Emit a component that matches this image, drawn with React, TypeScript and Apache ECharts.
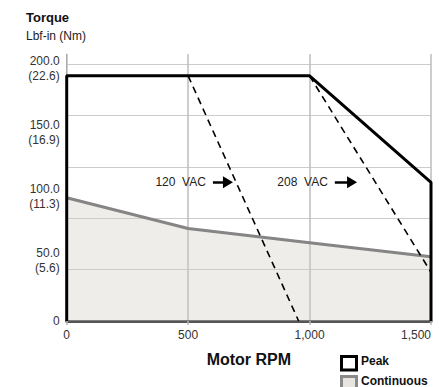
import React, { useEffect, useRef } from 'react';
import * as echarts from 'echarts';

const FONT = '"Liberation Sans", Arial, Helvetica, sans-serif';

// Axis ticks / labels
const rpmTicks = [0, 500, 1000, 1500];
const xTickLabels = ['0', '500', '1,000', '1,500'];
const yTickValues = [0, 50, 100, 150, 200];
const yLbfLabels = ['0', '50.0', '100.0', '150.0', '200.0'];
const yNmLabels = ['', '(5.6)', '(11.3)', '(16.9)', '(22.6)'];

// Peak torque envelope (lbf-in)
const peakRpm = [0, 0, 1000, 1500, 1500];
const peakTorque = [0, 191, 191, 108, 0];

// Continuous torque (lbf-in)
const contRpm = [0, 500, 1000, 1500];
const contTorque = [96, 72, 61, 50];

// Voltage limit lines
const vac120Rpm = [500, 955];
const vac120Torque = [191, 0];
const vac208Rpm = [1000, 1500];
const vac208Torque = [191, 38];

// Annotations (arrow start/end in rpm, at a torque level)
const annotationLabels = ['120  VAC', '208  VAC'];
const annotationStartRpm = [602, 1104];
const annotationEndRpm = [664, 1175];
const annotationTorque = [108, 108];

const zip = (xs: number[], ys: number[]) => xs.map((x, i) => [x, ys[i]]);

const arrowMarkLine = (i: number) => ({
  silent: true,
  symbol: ['none', 'triangle'],
  symbolSize: [12, 10],
  lineStyle: { color: '#000', width: 2.5, type: 'solid' },
  label: {
    show: true,
    position: 'start',
    distance: 7,
    formatter: () => annotationLabels[i],
    fontFamily: FONT,
    fontSize: 12,
    color: '#222',
  },
  data: [
    [
      { coord: [annotationStartRpm[i], annotationTorque[i]] },
      { coord: [annotationEndRpm[i], annotationTorque[i]] },
    ],
  ],
});

export default function App() {
  const ref = useRef<HTMLDivElement>(null);
  useEffect(() => {
    if (!ref.current) return;
    const chart = echarts.init(ref.current, null, { renderer: 'svg' });
    const option: any = {
      animation: false,
      textStyle: { fontFamily: FONT },
      grid: { left: 66.7, right: 8, top: 54, bottom: 66, containLabel: false },
      title: [
        {
          text: 'Torque', left: 26, top: 11, padding: 0,
          textStyle: { fontFamily: FONT, fontSize: 13, fontWeight: 'bold', color: '#111' },
        },
        {
          text: 'Lbf-in (Nm)', left: 26, top: 30, padding: 0,
          textStyle: { fontFamily: FONT, fontSize: 12, fontWeight: 'normal', color: '#222' },
        },
      ],
      xAxis: {
        type: 'value', min: 0, max: 1500, interval: 500,
        name: 'Motor RPM', nameLocation: 'middle', nameGap: 30,
        nameTextStyle: { fontFamily: FONT, fontSize: 16, fontWeight: 'bold', color: '#111' },
        axisLine: { show: true, onZero: false, lineStyle: { color: '#555', width: 3 } },
        axisTick: { show: true, length: 4, lineStyle: { color: '#b8b8b8', width: 1.5 } },
        axisLabel: {
          margin: 8, fontFamily: FONT, fontSize: 12, color: '#333',
          alignMaxLabel: 'right',
          formatter: (v: number) => {
            const i = rpmTicks.indexOf(v);
            return i >= 0 ? xTickLabels[i] : '';
          },
        },
        splitLine: { show: true, lineStyle: { color: '#bdbdbd', width: 1.5 } },
      },
      yAxis: [
        {
          type: 'value', min: 0, max: 208, interval: 40,
          axisLine: { show: true, lineStyle: { color: '#aaa', width: 1 } },
          axisTick: { show: false },
          axisLabel: { show: false },
          splitLine: { show: true, showMaxLine: false, lineStyle: { color: '#cbcbcb', width: 1 } },
        },
        {
          type: 'value', min: 0, max: 208, interval: 50, position: 'left',
          axisLine: { show: false },
          axisTick: { show: false },
          splitLine: { show: false },
          axisLabel: {
            margin: 7, fontFamily: FONT, fontSize: 12, color: '#333',
            formatter: (v: number) => {
              const i = yTickValues.indexOf(v);
              if (i < 0) return '';
              if (!yNmLabels[i]) return yLbfLabels[i];
              return `{s| }\n{a|${yLbfLabels[i]}}\n{a|${yNmLabels[i]}}`;
            },
            rich: {
              s: { lineHeight: 8, fontSize: 8 },
              a: { lineHeight: 15, fontSize: 12, fontFamily: FONT, color: '#333' },
            },
          },
        },
      ],
      series: [
        {
          name: 'Continuous', type: 'line', data: zip(contRpm, contTorque),
          symbol: 'none', silent: true, z: 2,
          lineStyle: { color: '#858585', width: 3 },
          areaStyle: { color: 'rgba(209,203,195,0.5)' },
        },
        {
          name: 'Peak', type: 'line', data: zip(peakRpm, peakTorque),
          symbol: 'none', silent: true, z: 3,
          lineStyle: { color: '#000', width: 3 },
        },
        {
          name: '120 VAC', type: 'line', data: zip(vac120Rpm, vac120Torque),
          symbol: 'none', silent: true, z: 4,
          lineStyle: { color: '#000', width: 1.6, type: [7, 5] },
          markLine: arrowMarkLine(0),
        },
        {
          name: '208 VAC', type: 'line', data: zip(vac208Rpm, vac208Torque),
          symbol: 'none', silent: true, z: 4,
          lineStyle: { color: '#000', width: 1.6, type: [7, 5] },
          markLine: arrowMarkLine(1),
        },
      ],
      graphic: [
        {
          type: 'rect', shape: { x: 341.5, y: 356.5, width: 15, height: 13.5 },
          style: { fill: '#fff', stroke: '#000', lineWidth: 3 },
        },
        {
          type: 'text', x: 361, y: 361,
          style: { text: 'Peak', fontFamily: FONT, fontSize: 12, fontWeight: 'bold', fill: '#111', verticalAlign: 'middle' },
        },
        {
          type: 'rect', shape: { x: 341.5, y: 376.5, width: 15, height: 13.5 },
          style: { fill: '#e8e5e1', stroke: '#8a8a8a', lineWidth: 3 },
        },
        {
          type: 'text', x: 361, y: 381,
          style: { text: 'Continuous', fontFamily: FONT, fontSize: 12, fontWeight: 'bold', fill: '#111', verticalAlign: 'middle' },
        },
      ],
    };
    chart.setOption(option);
    return () => chart.dispose();
  }, []);
  return (
    <div
      ref={ref}
      style={{ position: 'fixed', left: 0, top: 0, width: 439, height: 387, background: '#fff' }}
    />
  );
}
